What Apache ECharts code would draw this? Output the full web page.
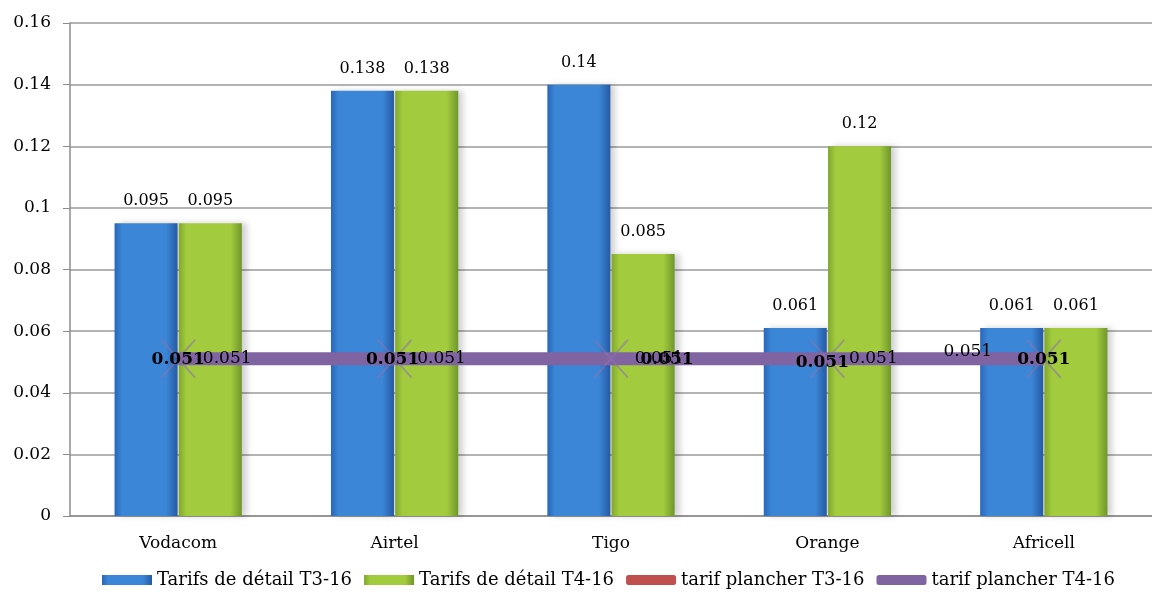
<!DOCTYPE html>
<html><head><meta charset="utf-8">
<script src="https://cdn.jsdelivr.net/npm/echarts@6/dist/echarts.min.js"></script>
<style>html,body{margin:0;padding:0;background:#fff}#c{width:1152px;height:603px}</style>
</head><body><div id="c"></div>
<script>
const categories = ['Vodacom', 'Airtel', 'Tigo', 'Orange', 'Africell'];
const retailT3 = [0.095, 0.138, 0.14, 0.061, 0.061];
const retailT4 = [0.095, 0.138, 0.085, 0.12, 0.061];
const floorT3 = [0.051, 0.051, 0.051, 0.051, 0.051];
const floorT4 = [0.051, 0.051, 0.051, 0.051, 0.051];
const seriesNames = ['Tarifs de détail T3-16', 'Tarifs de détail T4-16', 'tarif plancher T3-16', 'tarif plancher T4-16'];

const FONT = '"DejaVu Serif", serif';
const t3Off = [[0, 1], [-2, 1], [56, 1], [-5, 4], [0, 1]];
const t4Off = [[49, 0], [47, 0], [48, 0], [46, 0], [-76, -7]];

function grad(c1, c2, c3) {
  return new echarts.graphic.LinearGradient(0, 0, 1, 0, [
    {offset: 0, color: c1}, {offset: 0.12, color: c2}, {offset: 0.82, color: c2}, {offset: 1, color: c3}
  ]);
}
const xPath = 'path://M0,0L10,11M10,0L0,11';

const chart = echarts.init(document.getElementById('c'));
chart.setOption({
  animation: false,
  grid: {left: 70, right: -15, top: 23, bottom: 87},
  legend: {
    bottom: 9, left: 97, itemGap: 12, itemWidth: 50, itemHeight: 10,
    textStyle: {fontFamily: FONT, fontSize: 18, color: '#000'},
    data: [
      {name: seriesNames[0], icon: 'rect'},
      {name: seriesNames[1], icon: 'rect'},
      {name: seriesNames[2], icon: 'roundRect', itemStyle: {color: '#c0504d', borderWidth: 0}},
      {name: seriesNames[3], icon: 'roundRect', itemStyle: {color: '#8064a2', borderWidth: 0}}
    ]
  },
  xAxis: {
    type: 'category', data: categories,
    axisLine: {lineStyle: {color: '#8c8c8c', width: 1.5}},
    axisTick: {lineStyle: {color: '#8c8c8c'}, length: 6},
    axisLabel: {fontFamily: FONT, fontSize: 17, color: '#000', margin: 19}
  },
  yAxis: {
    type: 'value', min: 0, max: 0.16, interval: 0.02,
    axisLine: {show: true, lineStyle: {color: '#8c8c8c', width: 1.5}},
    axisTick: {show: true, length: 7, lineStyle: {color: '#8c8c8c'}},
    splitLine: {lineStyle: {color: '#9a9a9a', width: 1.5}},
    axisLabel: {fontFamily: FONT, fontSize: 17, color: '#000', margin: 19,
      formatter: v => String(+v.toFixed(2))}
  },
  series: [
    {
      name: seriesNames[0], type: 'bar', data: retailT3, barWidth: 63, barGap: '2%',
      itemStyle: {color: grad('#2a66b8', '#3b86d6', '#2659a3'), shadowColor: 'rgba(0,0,0,0.18)', shadowBlur: 6, shadowOffsetX: 5},
      label: {show: true, position: 'top', fontFamily: FONT, fontSize: 16, color: '#000', distance: 14}
    },
    {
      name: seriesNames[1], type: 'bar', data: retailT4, barWidth: 63,
      itemStyle: {color: grad('#7fa82c', '#a3cb3e', '#6f962a'), shadowColor: 'rgba(0,0,0,0.18)', shadowBlur: 6, shadowOffsetX: 5},
      label: {show: true, position: 'top', fontFamily: FONT, fontSize: 16, color: '#000', distance: 14}
    },
    {
      name: seriesNames[3], type: 'line', data: floorT4.map((v, i) => ({value: v,
        label: {offset: t4Off[i]}})),
      color: '#8064a2', lineStyle: {width: 13, color: '#8064a2'},
      symbol: xPath, symbolSize: [34, 38], showAllSymbol: true,
      itemStyle: {color: 'none', borderColor: 'rgba(140,115,175,0.55)', borderWidth: 2}, z: 4,
      label: {show: true, position: 'inside', fontFamily: FONT, fontSize: 17, color: '#000'}
    },
    {
      name: seriesNames[2], type: 'line', data: floorT3.map((v, i) => ({value: v,
        label: {offset: t3Off[i]}})),
      color: '#c0504d', lineStyle: {width: 13, color: '#c0504d', opacity: 0},
      symbol: 'circle', symbolSize: 1, showAllSymbol: true, itemStyle: {color: 'rgba(0,0,0,0)'}, z: 5,
      label: {show: true, position: 'inside', fontFamily: FONT, fontSize: 17, fontWeight: 'bold', color: '#000'}
    }
  ]
});
</script></body></html>
